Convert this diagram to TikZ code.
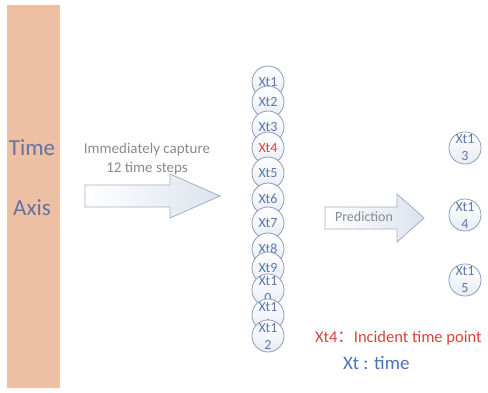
\documentclass[tikz,border=0pt]{standalone}
\usepackage{fontspec}
\setmainfont{Carlito}
\newfontfamily\cjkfont{Noto Sans CJK SC}
\definecolor{axisfill}{HTML}{EDBFA3}
\definecolor{axisink}{HTML}{6673A0}
\definecolor{capink}{HTML}{8A8A8A}
\definecolor{arrowline}{HTML}{A3AEC4}
\definecolor{arrowfill}{HTML}{DCE3EE}
\definecolor{circline}{HTML}{8E9BB8}
\definecolor{circink}{HTML}{5B78AE}
\definecolor{redink}{HTML}{D9433D}
\definecolor{blueink}{HTML}{4A72B8}
\tikzset{
  axistext/.style={text=axisink,font=\fontsize{23}{27}\selectfont,inner sep=0pt},
  captext/.style={text=capink,font=\fontsize{15}{18}\selectfont,inner sep=0pt},
  blockarrow/.style={draw=arrowline,line width=0.8pt,left color=white,right color=arrowfill},
  tcircle/.style={circle,draw=circline,line width=0.8pt,minimum size=32pt,inner sep=0pt,
    top color=white,bottom color=arrowfill!70,text=circink,align=center,
    font=\fontsize{14}{17}\selectfont},
  redcircle/.style={tcircle,text=redink},
  predtext/.style={text=capink,font=\fontsize{14}{16}\selectfont,inner sep=0pt},
  notetext/.style={inner sep=0pt,anchor=base west}
}
\begin{document}
\begin{tikzpicture}[x=1pt,y=-1pt]
\useasboundingbox (0,0) rectangle (488,393);
% time axis bar
\fill[axisfill] (7,5) rectangle (60,388);
\node[axistext] (time) at (32,148) {Time};
\node[axistext] (axis) at (32,208) {Axis};
% capture arrow
\draw[blockarrow] (85,185) -- (170,185) -- (170,174) -- (220,196) -- (170,218) -- (170,207) -- (85,207) -- cycle;
\node[captext] (cap1) at (147,150) {Immediately capture};
\node[captext] (cap2) at (147,169) {12 time steps};
% column of time steps
\node[tcircle] (x1) at (268,82) {Xt1};
\node[tcircle] (x2) at (268,102) {Xt2};
\node[tcircle] (x3) at (268,127) {Xt3};
\node[redcircle] (x4) at (268,148) {Xt4};
\node[tcircle] (x5) at (268,173) {Xt5};
\node[tcircle] (x6) at (268,199) {Xt6};
\node[tcircle] (x7) at (268,223) {Xt7};
\node[tcircle] (x8) at (268,249) {Xt8};
\node[tcircle] (x9) at (268,268) {Xt9};
\node[tcircle] (x10) at (268,290) {Xt1\\0};
\node[tcircle] (x11) at (268,315) {Xt1\\1};
\node[tcircle] (x12) at (268,336) {Xt1\\2};
% prediction arrow
\draw[blockarrow] (325,207) -- (397,207) -- (397,194) -- (424,218) -- (397,242) -- (397,229) -- (325,229) -- cycle;
\node[predtext] (pred) at (364,217) {Prediction};
% predicted steps
\node[tcircle] (x13) at (465,148) {Xt1\\3};
\node[tcircle] (x14) at (465,215) {Xt1\\4};
\node[tcircle] (x15) at (465,280) {Xt1\\5};
% notes
\node[notetext,text=redink,font=\fontsize{16.5}{20}\selectfont] (note1) at (315,342) {Xt4{\cjkfont ：}Incident time point};
\node[notetext,text=blueink,font=\fontsize{19}{22}\selectfont] (note2) at (343,369) {Xt : time};
\end{tikzpicture}
\end{document}
